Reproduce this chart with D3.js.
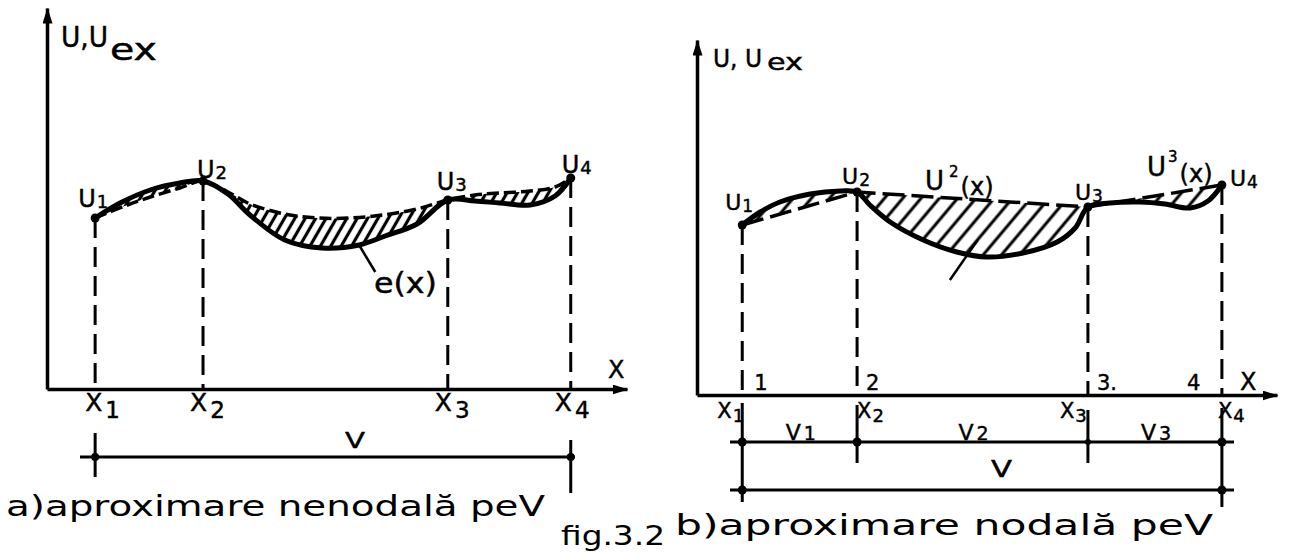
<!DOCTYPE html>
<html>
<head>
<meta charset="utf-8">
<script src="https://cdn.jsdelivr.net/npm/d3@7"></script>
<style>
  body { margin: 0; background: #fff; }
  svg { display: block; }
  text { font-family: "DejaVu Sans", sans-serif; fill: #000; stroke: #000; stroke-width: 0.45px; }
  text.caption { stroke-width: 0; }
</style>
</head>
<body>
<svg id="fig" width="1290" height="558"></svg>
<script>
// Units: x runs 0..100 along each abscissa, y is the value of u (2.5 px per unit).
const nodeNames = ["1", "2", "3", "4"];

// a) non-nodal approximation: nodes and nodal values
const nodeXA = [8.3, 26.9, 69.1, 90.3];
const nodeUA = [68.4, 83.2, 75.6, 84.4];
// exact solution u_ex(x) on V, panel a
const exactA = [[8.3,68.4],[12.6,74.4],[17.8,79.6],[22.9,82.4],[26.9,83.2],[31.2,78.0],[35.0,69.6],
  [41.0,59.6],[47.4,56.4],[53.8,57.6],[58.3,61.2],[63.8,66.0],[69.1,75.6],[73.8,75.2],[78.1,74.4],
  [83.3,73.6],[87.6,77.2],[90.3,84.4]];
// approximation u(x), panel a
const approxA = [[8.3,68.4],[13.4,73.2],[17.8,76.8],[22.9,80.4],[26.9,83.2],[31.2,78.8],[35.0,74.0],
  [41.0,70.0],[46.6,68.4],[52.2,68.4],[57.9,69.6],[63.8,72.0],[69.1,75.6],[73.8,77.6],[78.1,78.4],
  [83.3,79.2],[87.6,80.8],[90.3,84.4]];
// e(x) pointer
const pointerA = [[53.8,57.6],[56.6,46.8]];

// b) nodal approximation: nodes and nodal values
const nodeXB = [7.8, 27.6, 67.4, 90.5];
const nodeUB = [68.0, 81.2, 75.2, 84.0];
// exact solution u_ex(x) on V, panel b
const exactB = [[7.8,68.0],[10.9,73.2],[14.3,77.2],[19.5,80.4],[24.7,81.6],[27.6,81.2],[29.8,76.0],
  [33.3,69.2],[39.0,62.0],[44.8,57.2],[50.0,55.2],[56.2,56.8],[62.1,61.2],[65.2,66.8],[67.4,75.2],
  [71.2,76.8],[76.4,77.2],[80.7,76.4],[85.0,74.8],[88.1,77.6],[90.5,84.0]];
const pointerB = [[48.4,62.0],[43.6,46.0]];

const svg = d3.select("#fig");
const defs = svg.append("defs");

defs.append("marker")
  .attr("id", "arrow").attr("viewBox", "0 0 16 10")
  .attr("refX", 15).attr("refY", 5)
  .attr("markerWidth", 16).attr("markerHeight", 10)
  .attr("markerUnits", "userSpaceOnUse").attr("orient", "auto")
  .append("path").attr("d", "M0,0 L16,5 L0,10 Z").attr("fill", "#000");

function hatch(id, gap, width, angle) {
  const p = defs.append("pattern").attr("id", id)
    .attr("patternUnits", "userSpaceOnUse")
    .attr("width", gap).attr("height", gap)
    .attr("patternTransform", `rotate(${angle})`);
  p.append("line").attr("x1", gap / 2).attr("y1", -1).attr("x2", gap / 2).attr("y2", gap + 1)
    .attr("stroke", "#000").attr("stroke-width", width);
}
hatch("hatchA", 9, 3.2, 30);
hatch("hatchB", 14, 3, 40);

function makeScales(x0, axisY) {
  return {
    x: d3.scaleLinear().domain([0, 100]).range([x0, x0 + 580]),
    y: d3.scaleLinear().domain([0, 100]).range([axisY, axisY - 250])
  };
}
const A = makeScales(47, 389);
const B = makeScales(697, 395);

function lens(line, upper, lower) {
  return line(upper) + line(lower.slice().reverse()).replace(/^M/, "L") + "Z";
}

function axes(g, s, yTop, xLabel) {
  g.append("g").attr("transform", `translate(0,${s.y(0)})`)
    .call(d3.axisBottom(s.x).tickValues([]).tickSizeOuter(0))
    .call(a => a.select(".domain").attr("stroke-width", 3.5).attr("marker-end", "url(#arrow)"));
  const yAxisScale = s.y.copy().domain([0, yTop]).range([s.y(0), s.y(yTop)]);
  g.append("g").attr("transform", `translate(${s.x(0)},0)`)
    .call(d3.axisLeft(yAxisScale).tickValues([]).tickSizeOuter(0))
    .call(a => a.select(".domain").attr("stroke-width", 3.5).attr("marker-end", "url(#arrow)"));
  g.append("text").attr("x", xLabel[0]).attr("y", xLabel[1]).attr("font-size", 24).text("X");
}

function verticals(g, s, xs, us) {
  g.selectAll(null).data(xs).join("line")
    .attr("x1", d => s.x(d)).attr("x2", d => s.x(d))
    .attr("y1", (d, i) => s.y(us[i])).attr("y2", s.y(0))
    .attr("stroke", "#000").attr("stroke-width", 3).attr("stroke-dasharray", "20 9");
}

function dots(g, s, xs, us, r) {
  g.selectAll(null).data(xs).join("circle")
    .attr("cx", d => s.x(d)).attr("cy", (d, i) => s.y(us[i])).attr("r", r);
}

// label with subscript / superscript parts
function label(g, x, y, size, parts, width) {
  const t = g.append("text").attr("x", x).attr("y", y).attr("font-size", size);
  parts.forEach(p => {
    const ts = t.append("tspan").text(p.t);
    if (p.size) ts.attr("font-size", p.size);
    if (p.dx) ts.attr("dx", p.dx);
    if (p.dy) ts.attr("dy", p.dy);
  });
  if (width) t.attr("textLength", width).attr("lengthAdjust", "spacingAndGlyphs");
  return t;
}

/* ---------------- panel a ---------------- */
const gA = svg.append("g");
const lineA = d3.line().x(d => A.x(d[0])).y(d => A.y(d[1])).curve(d3.curveCatmullRom.alpha(0.5));

gA.append("path").attr("d", lens(lineA, exactA, approxA))
  .attr("fill", "url(#hatchA)").attr("stroke", "none");
gA.append("path").attr("d", lineA(approxA)).attr("fill", "none")
  .attr("stroke", "#000").attr("stroke-width", 3.5).attr("stroke-dasharray", "12 5");
gA.append("path").attr("d", lineA(exactA)).attr("fill", "none")
  .attr("stroke", "#000").attr("stroke-width", 5).attr("stroke-linecap", "round");
gA.append("path").attr("d", d3.line().x(d => A.x(d[0])).y(d => A.y(d[1]))(pointerA))
  .attr("stroke", "#000").attr("stroke-width", 2.5);

verticals(gA, A, nodeXA, nodeUA);
axes(gA, A, 152.4, [608, 378]);
dots(gA, A, nodeXA, nodeUA, 4.5);

// U, U_ex
label(gA, 61, 47, 28, [{ t: "U,U" }], 47);
label(gA, 110, 60, 31, [{ t: "ex" }], 47);

// nodal value labels
const uOffA = [[-17, -11], [-6, -3], [-11, -10], [-9, -5]];
nodeXA.forEach((xv, i) => {
  label(gA, A.x(xv) + uOffA[i][0], A.y(nodeUA[i]) + uOffA[i][1], 24,
    [{ t: "U" }, { t: nodeNames[i], size: 18, dx: 1, dy: 1 }]);
});
// abscissa labels
const xOffA = [-10, -13, -13, -16];
nodeXA.forEach((xv, i) => {
  label(gA, A.x(xv) + xOffA[i], 411, 25, [{ t: "X" }, { t: nodeNames[i], size: 23, dx: 3, dy: 7 }]);
});
label(gA, 374, 293, 28, [{ t: "e(x)" }], 63);

// domain V
const barA = 457;
gA.append("line").attr("x1", 80).attr("x2", 575).attr("y1", barA).attr("y2", barA)
  .attr("stroke", "#000").attr("stroke-width", 3);
[[nodeXA[0], 433, 477], [nodeXA[3], 440, 493]].forEach(d => {
  gA.append("line").attr("x1", A.x(d[0])).attr("x2", A.x(d[0])).attr("y1", d[1]).attr("y2", d[2])
    .attr("stroke", "#000").attr("stroke-width", 3);
  gA.append("circle").attr("cx", A.x(d[0])).attr("cy", barA).attr("r", 4);
});
label(gA, 345, 448, 22, [{ t: "V" }], 20);

label(gA, 6, 516, 29, [{ t: "a)aproximare nenodală peV" }], 539).attr("class", "caption");

/* ---------------- panel b ---------------- */
const gB = svg.append("g");
const lineB = d3.line().x(d => B.x(d[0])).y(d => B.y(d[1])).curve(d3.curveCatmullRom.alpha(0.5));
const chordB = nodeXB.map((xv, i) => [xv, nodeUB[i]]);
const straight = d3.line().x(d => B.x(d[0])).y(d => B.y(d[1]));

gB.append("path").attr("d", lineB(exactB) + straight(chordB.slice().reverse()).replace(/^M/, "L") + "Z")
  .attr("fill", "url(#hatchB)").attr("stroke", "none");
gB.append("path").attr("d", straight(chordB)).attr("fill", "none")
  .attr("stroke", "#000").attr("stroke-width", 3.5).attr("stroke-dasharray", "22 7");
gB.append("path").attr("d", lineB(exactB)).attr("fill", "none")
  .attr("stroke", "#000").attr("stroke-width", 5).attr("stroke-linecap", "round");
gB.append("path").attr("d", straight(pointerB)).attr("stroke", "#000").attr("stroke-width", 2.5);

verticals(gB, B, nodeXB, nodeUB);
axes(gB, B, 142, [1240, 390]);
dots(gB, B, nodeXB, nodeUB, 4.5);

label(gB, 713, 67, 24, [{ t: "U, U" }], 49);
label(gB, 767, 70, 23, [{ t: "ex" }], 36);

const uOffB = [[-17, -15], [-15, -8], [-13, -7], [8, 1]];
nodeXB.forEach((xv, i) => {
  label(gB, B.x(xv) + uOffB[i][0], B.y(nodeUB[i]) + uOffB[i][1], 22,
    [{ t: "U" }, { t: nodeNames[i], size: 17, dx: 1, dy: 2 }]);
});
label(gB, 925, 190, 26, [{ t: "U" }, { t: "2", size: 15, dx: 5, dy: -13 }, { t: "(x)", size: 24, dx: 2, dy: 18 }]);
label(gB, 1147, 176, 26, [{ t: "U" }, { t: "3", size: 15, dx: 2, dy: -14 }, { t: "(x)", size: 24, dx: 2, dy: 20 }]);

// node numbers along the axis
const numOffB = [12, 9, 9, -35];
nodeXB.forEach((xv, i) => {
  label(gB, B.x(xv) + numOffB[i], 390, 21, [{ t: nodeNames[i] + (i === 2 ? "." : "") }]);
});
const xOffB = [-25, 0, -28, -4];
nodeXB.forEach((xv, i) => {
  label(gB, B.x(xv) + xOffB[i], 418, 21, [{ t: "X" }, { t: nodeNames[i], size: 18, dx: 1, dy: 4 }]);
});

// elements V1..V3 and domain V
const barB1 = 442, barB2 = 490;
[barB1, barB2].forEach(y => {
  gB.append("line").attr("x1", 730).attr("x2", 1234).attr("y1", y).attr("y2", y)
    .attr("stroke", "#000").attr("stroke-width", 3);
});
const tickB = [[403, 502], [405, 463], [410, 463], [408, 507]];
nodeXB.forEach((xv, i) => {
  gB.append("line").attr("x1", B.x(xv)).attr("x2", B.x(xv)).attr("y1", tickB[i][0]).attr("y2", tickB[i][1])
    .attr("stroke", "#000").attr("stroke-width", 3);
  gB.append("circle").attr("cx", B.x(xv)).attr("cy", barB1).attr("r", i === 2 ? 3 : 4.5);
});
[nodeXB[0], nodeXB[3]].forEach(xv => {
  gB.append("circle").attr("cx", B.x(xv)).attr("cy", barB2).attr("r", 4.5);
});
const elemNames = ["1", "2", "3"];
elemNames.forEach((n, i) => {
  const mid = (B.x(nodeXB[i]) + B.x(nodeXB[i + 1])) / 2;
  label(gB, mid - 14, 440, 22, [{ t: "V" }, { t: n, size: 19, dx: 3 }]);
});
label(gB, 991, 477, 23, [{ t: "V" }], 21);

label(gB, 675, 535, 29, [{ t: "b)aproximare nodală peV" }], 538).attr("class", "caption");
label(svg, 561, 545, 27, [{ t: "fig.3.2" }], 104).attr("class", "caption");
</script>
</body>
</html>
